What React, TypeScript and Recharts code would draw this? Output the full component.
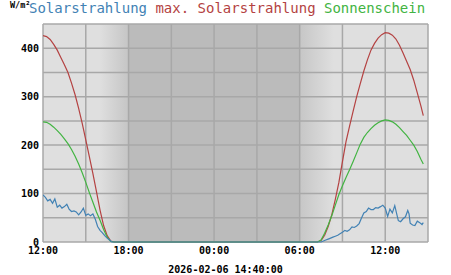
import { LineChart, Line, XAxis, YAxis, CartesianGrid } from "recharts";

// hours since 12:00 on the first day
const sunHours = [
  0, 0.25, 0.5, 0.75, 1, 1.25, 1.5, 1.75, 2, 2.25, 2.5, 2.75, 3, 3.25, 3.5, 3.75, 4, 4.25, 4.5, 4.75, 5,
  19.25, 19.5, 19.75, 20, 20.25, 20.5, 20.75, 21, 21.25, 21.5, 21.75, 22, 22.25, 22.5, 22.75, 23, 23.25, 23.5,
  23.75, 24, 24.25, 24.5, 24.75, 25, 25.25, 25.5, 25.75, 26, 26.25, 26.5, 26.67,
];
const maxSolar = [
  426, 424, 418, 408, 396, 381, 366, 350, 328, 304, 276, 245, 211, 176, 141, 104, 66, 34, 13, 2, 0,
  0, 3, 14, 32, 56, 88, 123, 166, 207, 239, 270, 300, 327, 353, 376, 396, 410, 421,
  428, 432, 431, 427, 419, 406, 390, 373, 356, 334, 308, 281, 261,
];
const sunshine = [
  248, 247, 243, 237, 230, 222, 213, 203, 191, 177, 161, 143, 123, 102, 82, 62, 45, 26, 10, 1, 0,
  0, 4, 18, 35, 54, 76, 98, 116, 133, 149, 166, 184, 202, 216, 226, 234, 241, 246,
  250, 252, 251, 248, 243, 236, 228, 220, 210, 200, 187, 171, 161,
];

const radHours = [
  0, 0.17, 0.33, 0.5, 0.67, 0.83, 1, 1.17, 1.33, 1.5, 1.67, 1.83, 2, 2.17, 2.33, 2.5, 2.67, 2.83, 3, 3.17,
  3.33, 3.5, 3.67, 3.83, 4, 4.17, 4.33, 4.5, 4.67, 4.83,
  19.5, 19.67, 19.83, 20, 20.17, 20.33, 20.5, 20.67, 20.83, 21, 21.17, 21.33, 21.5, 21.67, 21.83, 22, 22.17,
  22.33, 22.5, 22.67, 22.83, 23, 23.17, 23.33, 23.5, 23.67, 23.83, 24, 24.08, 24.17, 24.33, 24.5, 24.67,
  24.83, 24.92, 25.08, 25.25, 25.42, 25.58, 25.67, 25.75, 25.92, 26.08, 26.25, 26.42, 26.58, 26.67,
];
const radiation = [
  97, 92, 85, 88, 80, 89, 72, 76, 70, 73, 78, 68, 63, 64, 62, 56, 62, 70, 55, 58,
  54, 58, 47, 32, 24, 19, 13, 8, 4, 0,
  0, 2, 4, 6, 8, 10, 12, 14, 17, 20, 24, 22, 25, 31, 30, 33, 38,
  49, 60, 63, 70, 67, 67, 71, 70, 73, 76, 70, 62, 53, 68, 60, 75,
  55, 44, 42, 48, 52, 65, 58, 39, 35, 34, 43, 40, 36, 40,
];

// day/night shading edges (hours since 12:00)
const duskStart = 3.97;
const duskEnd = 5.93;
const dawnStart = 17.97;
const dawnEnd = 20.4;

const xTicks = [0, 3, 6, 9, 12, 15, 18, 21, 24, 27];
const yTicks = [0, 50, 100, 150, 200, 250, 300, 350, 400, 450];
const X_END = 27;

const sunData = sunHours.map((h, i) => ({ h, max: maxSolar[i], sun: sunshine[i] }));
const radData = radHours.map((h, i) => ({ h, rad: radiation[i] }));

const MONO = "'DejaVu Sans Mono', monospace";
const tickStyle = { fontSize: 10, fontFamily: MONO, fontWeight: 700, fill: "#000" };

const fmtHour = (h: number) => {
  if (h % 6 !== 0) return "";
  const hh = (12 + h) % 24;
  return `${String(hh).padStart(2, "0")}:00`;
};

const pct = (h: number) => `${((h / X_END) * 100).toFixed(2)}%`;

export default function App() {
  return (
    <div style={{ position: "absolute", left: 0, top: 0, width: 451, height: 275, background: "#fff" }}>
      <svg width={451} height={275} style={{ position: "absolute", left: 0, top: 0, pointerEvents: "none", zIndex: 2 }}>
        <defs>
          <linearGradient id="daynight" x1="0" y1="0" x2="1" y2="0">
            <stop offset={pct(duskStart)} stopColor="#dfdfdf" />
            <stop offset={pct(duskEnd)} stopColor="#c6c6c6" />
            <stop offset={pct(duskEnd)} stopColor="#bbbbbb" />
            <stop offset={pct(dawnStart)} stopColor="#bbbbbb" />
            <stop offset={pct(dawnStart)} stopColor="#c6c6c6" />
            <stop offset={pct(dawnEnd)} stopColor="#dfdfdf" />
          </linearGradient>
        </defs>
        <text x={10} y={8} fontFamily={MONO} fontWeight={700} fontSize={8.5} fill="#000">W/m²</text>
        <text x={29} y={13} fontFamily={MONO} fontSize={14}>
          <tspan fill="#4282b4">Solarstrahlung </tspan>
          <tspan fill="#b44242">max. Solarstrahlung </tspan>
          <tspan fill="#42b442">Sonnenschein</tspan>
        </text>
        <text x={225.5} y={273} textAnchor="middle" fontFamily={MONO} fontWeight={700} fontSize={10} fill="#000">
          2026-02-06 14:40:00
        </text>
      </svg>
      <LineChart width={451} height={275} margin={{ top: 24, right: 23, left: 0, bottom: 0 }}>
        <CartesianGrid
          fill="url(#daynight)"
          fillOpacity={1}
          stroke="#a8a8a8"
          strokeWidth={1.5}
          horizontalValues={yTicks}
          verticalValues={xTicks}
        />
        <XAxis
          type="number"
          dataKey="h"
          domain={[0, X_END]}
          ticks={xTicks}
          tickFormatter={fmtHour}
          axisLine={false}
          tickLine={false}
          tickSize={3}
          tickMargin={2}
          height={33}
          interval={0}
          tick={tickStyle}
          allowDataOverflow
        />
        <YAxis
          type="number"
          domain={[0, 450]}
          ticks={yTicks}
          tickFormatter={(v: number) => (v % 100 === 0 ? String(v) : "")}
          axisLine={false}
          tickLine={false}
          tickSize={2}
          tickMargin={2}
          width={43}
          interval={0}
          tick={tickStyle}
        />
        <Line data={sunData} dataKey="max" stroke="#b44242" strokeWidth={1.2} dot={false} isAnimationActive={false} />
        <Line data={sunData} dataKey="sun" stroke="#42b442" strokeWidth={1.2} dot={false} isAnimationActive={false} />
        <Line data={radData} dataKey="rad" stroke="#4282b4" strokeWidth={1.2} dot={false} isAnimationActive={false} />
      </LineChart>
    </div>
  );
}
